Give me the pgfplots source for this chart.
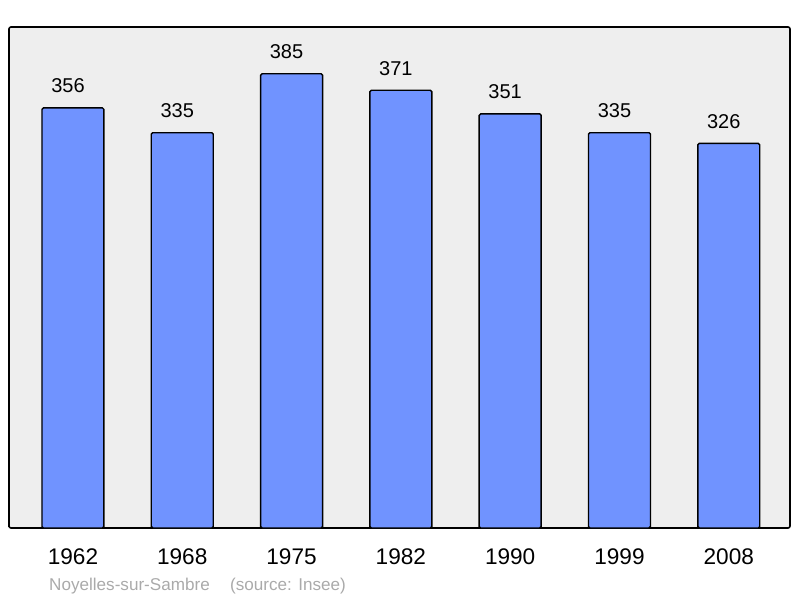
\documentclass[border=0pt]{standalone}
\usepackage{pgfplots}
\pgfplotsset{compat=1.18}
\usepackage{fontspec}
\setmainfont{Liberation Sans}
\definecolor{barblue}{HTML}{7093FF}
\definecolor{bggray}{HTML}{EEEEEE}
\definecolor{capgray}{HTML}{AAAAAA}
\begin{document}
\begin{tikzpicture}[x=1pt,y=1pt]
\path[use as bounding box] (0,0) rectangle (800,598);
\begin{axis}[
  at={(9pt,70pt)}, anchor=south west,
  scale only axis, width=781pt, height=501pt,
  xmin=-0.585, xmax=6.56, ymin=0, ymax=424.6,
  axis background/.style={fill=bggray},
  axis line style={line width=1.6pt, rounded corners=2pt},
  ybar, bar width=0.567,
  xtick=data, xticklabels={1962,1968,1975,1982,1990,1999,2008},
  ytick=\empty, major tick length=0pt,
  xticklabel style={font=\fontsize{22.6}{26}\selectfont, yshift=-17pt},
  /pgf/number format/assume math mode=true,
  nodes near coords,
  every node near coord/.append style={font=\fontsize{20}{23}\selectfont, black, yshift=11pt, xshift=-5pt},
  clip=false,
]
\addplot[fill=barblue, draw=black, line width=1.4pt, rounded corners=1.5pt] coordinates {(0,356) (1,335) (2,385) (3,371) (4,351) (5,335) (6,326)};
\end{axis}
\node[anchor=base west, text=capgray, font=\fontsize{17.1}{20}\selectfont, inner sep=0] at (49,8) {Noyelles-sur-Sambre};
\node[anchor=base west, text=capgray, font=\fontsize{17.1}{20}\selectfont, inner sep=0] at (230,8) {(source: Insee)};
\end{tikzpicture}
\end{document}
